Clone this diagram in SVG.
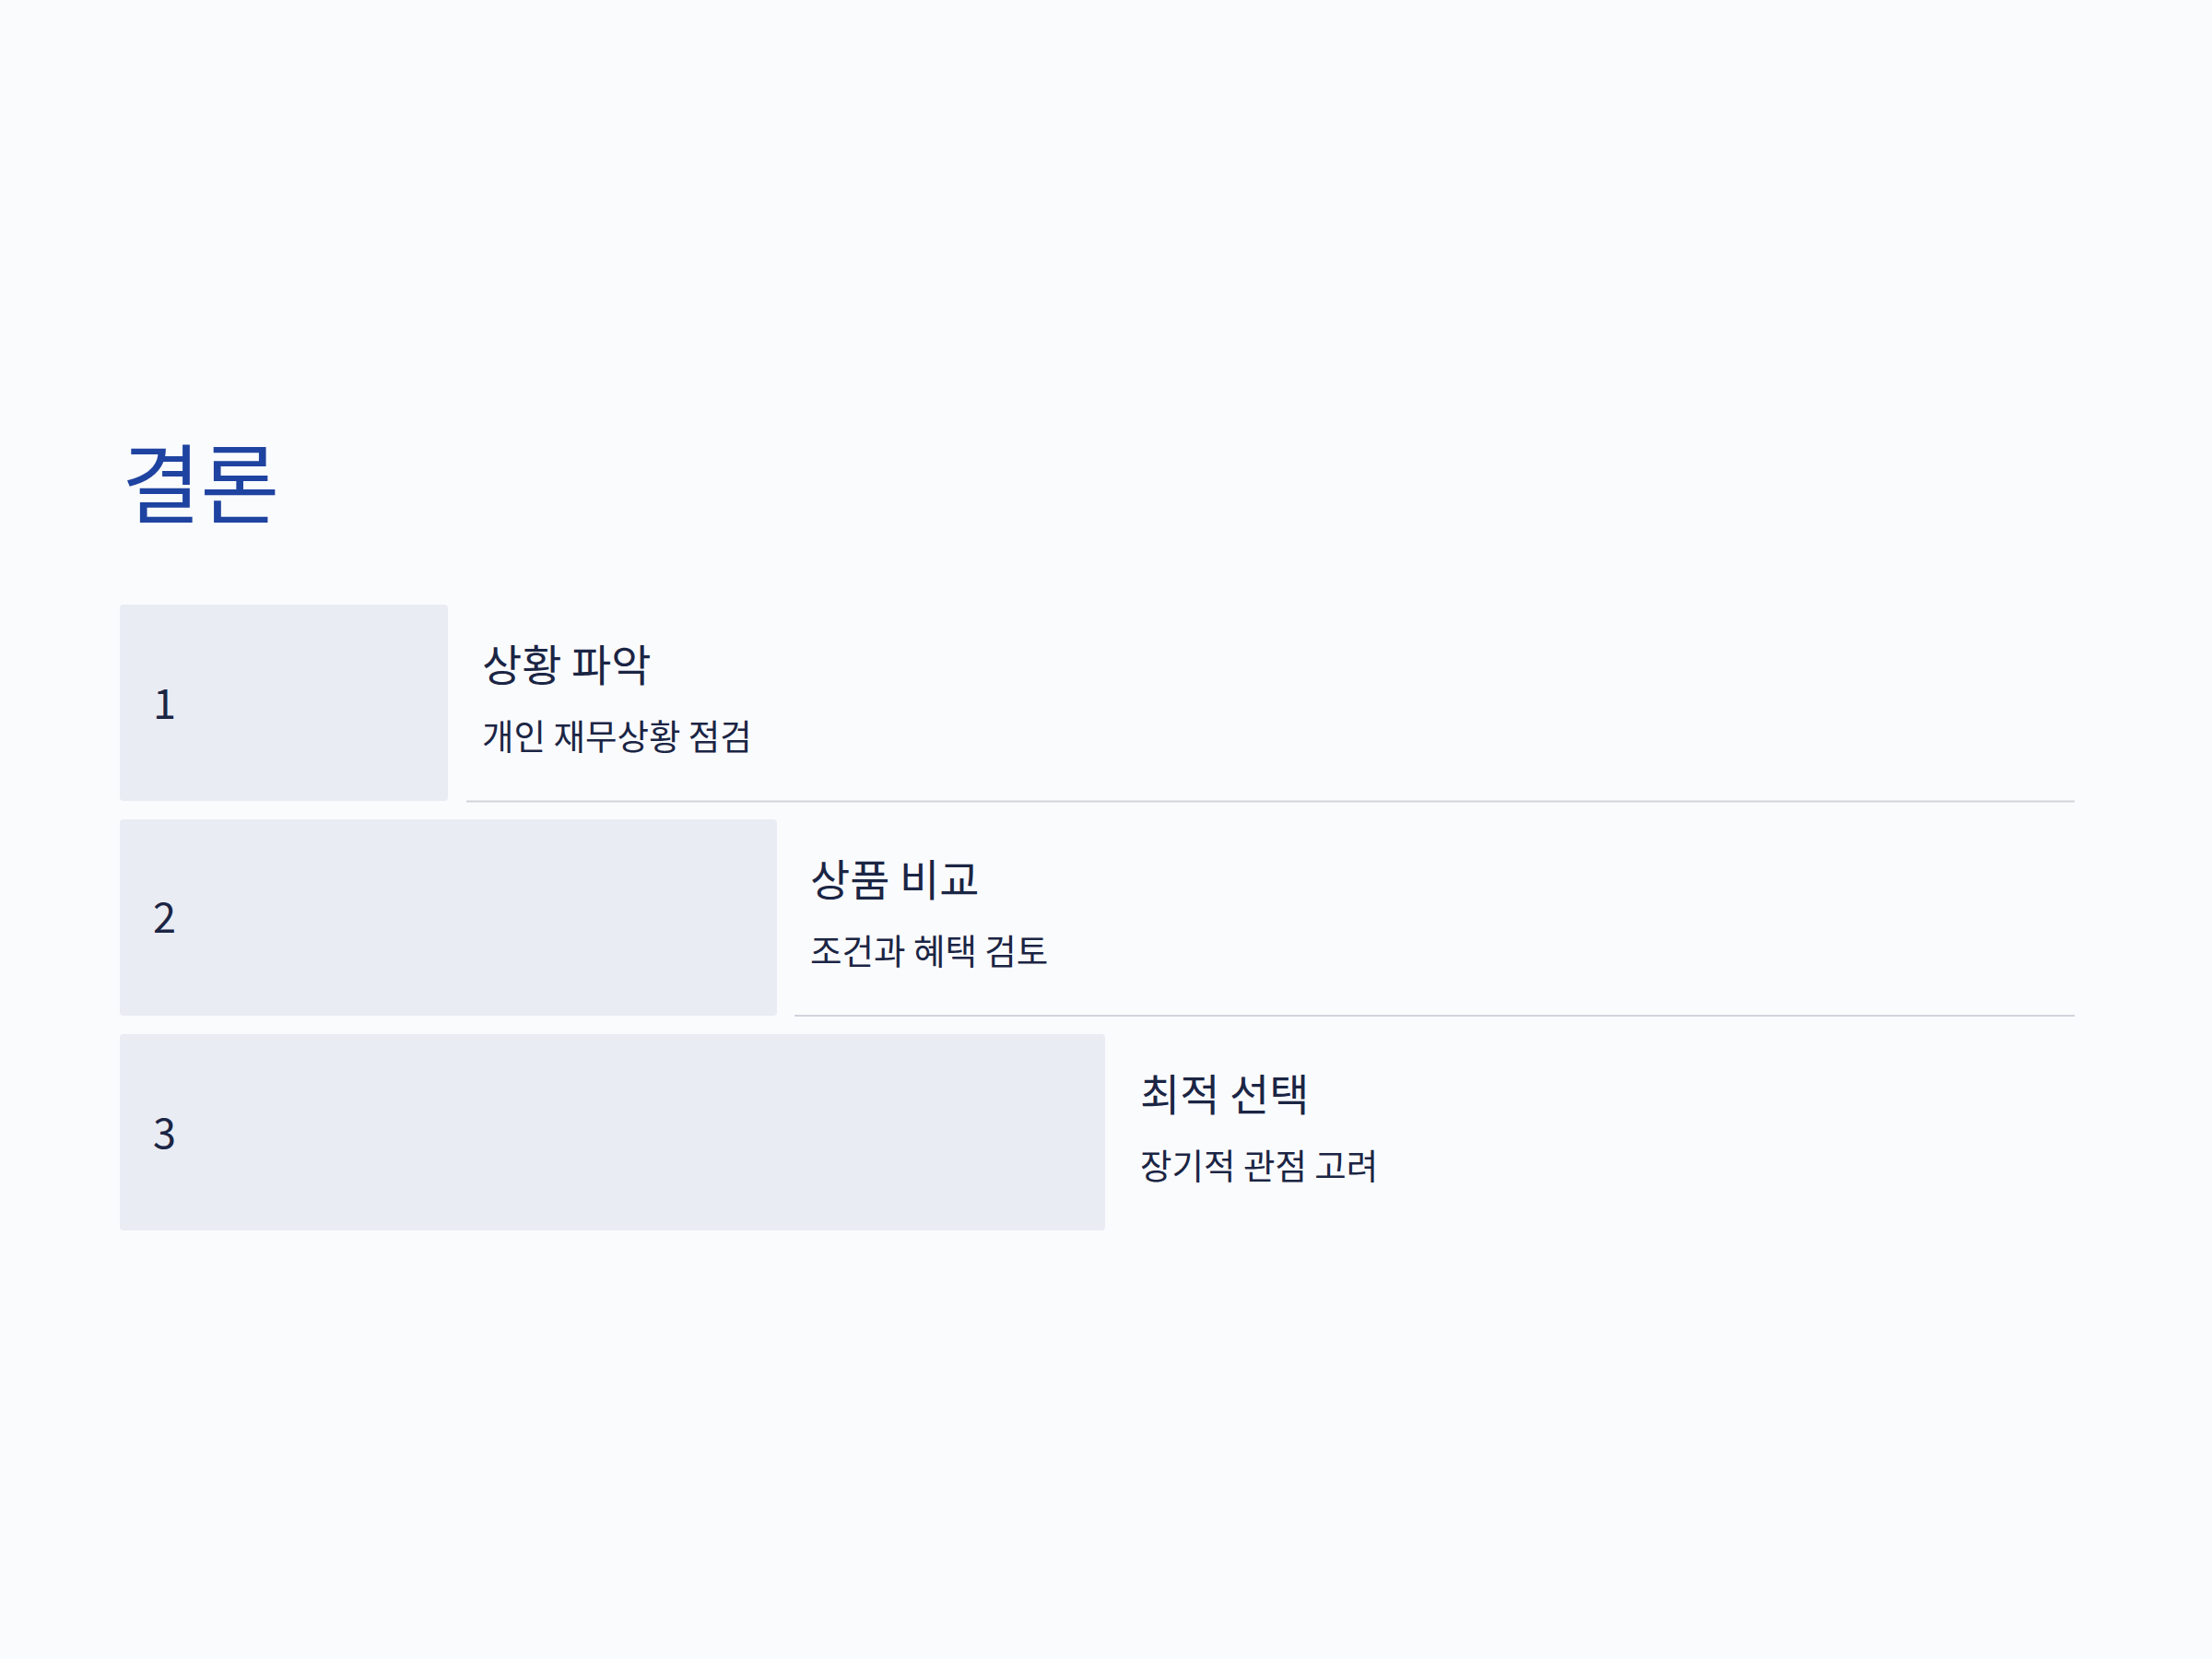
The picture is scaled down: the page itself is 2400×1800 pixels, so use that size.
<svg xmlns="http://www.w3.org/2000/svg" width="2400" height="1800" viewBox="0 0 2400 1800">
  <style>
    .bg { fill: #fafbfd; }
    .box { fill: #e9ecf3; }
    .num { font-family: "Noto Sans CJK KR", "Noto Sans", sans-serif; font-size: 45px; fill: #1b2544; }
    .ttl { font-family: "Noto Sans CJK KR", "Noto Sans", sans-serif; font-size: 47px; fill: #1b2544; }
    .sub { font-family: "Noto Sans CJK KR", "Noto Sans", sans-serif; font-size: 37.5px; fill: #1b2544; }
    .head { font-family: "Noto Sans CJK KR", "Noto Sans", sans-serif; font-size: 93px; fill: #1f43a0; }
    .rule { stroke: #d1d3dc; stroke-width: 2; fill: none; }
  </style>
  <rect class="bg" x="0" y="0" width="2400" height="1800"/>
  <g id="title">
    <text class="head" x="132" y="560">결론</text>
  </g>
  <g id="connectors">
    <line class="rule" x1="506" y1="869.5" x2="2251" y2="869.5"/>
    <line class="rule" x1="862" y1="1102" x2="2251" y2="1102"/>
  </g>
  <g id="step1">
    <rect class="box" x="130" y="656" width="356" height="213" rx="4"/>
    <text class="num" x="166" y="780">1</text>
    <text class="ttl" x="523" y="739">상황 파악</text>
    <text class="sub" x="523" y="813">개인 재무상황 점검</text>
  </g>
  <g id="step2">
    <rect class="box" x="130" y="889" width="713" height="213" rx="4"/>
    <text class="num" x="166" y="1012">2</text>
    <text class="ttl" x="879" y="972">상품 비교</text>
    <text class="sub" x="879" y="1046">조건과 혜택 검토</text>
  </g>
  <g id="step3">
    <rect class="box" x="130" y="1122" width="1069" height="213" rx="4"/>
    <text class="num" x="166" y="1246">3</text>
    <text class="ttl" x="1237" y="1205">최적 선택</text>
    <text class="sub" x="1237" y="1279">장기적 관점 고려</text>
  </g>
</svg>
